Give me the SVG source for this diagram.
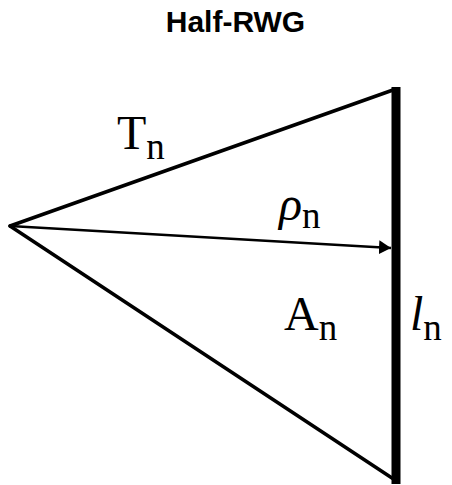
<svg xmlns="http://www.w3.org/2000/svg" width="452" height="485" viewBox="0 0 452 485">
<style>
.title{font-family:"Liberation Sans",Arial,sans-serif;font-weight:bold;font-size:30px;fill:#000}
.lbl{font-family:"Liberation Serif","Times New Roman",serif;font-size:48px;fill:#000}
.sub{font-size:37px}
.edge{stroke:#000;stroke-width:3.5;fill:none;stroke-linecap:round}
</style>
<defs>
<marker id="ah" viewBox="0 0 12 14" refX="12" refY="7" markerWidth="12" markerHeight="14" markerUnits="userSpaceOnUse" orient="auto">
<path d="M0,0 L12,7 L0,14 Z" fill="#000"/>
</marker>
</defs>
<rect width="452" height="485" fill="#fff"/>
<text class="title" x="235.5" y="32" text-anchor="middle">Half-RWG</text>
<g id="connectors">
<line class="edge" x1="10" y1="226" x2="393" y2="90"/>
<line class="edge" x1="10" y1="226" x2="395" y2="480"/>
<line x1="10" y1="226" x2="391" y2="248" stroke="#000" stroke-width="2.5" marker-end="url(#ah)"/>
</g>
<g id="edge-ln">
<rect x="391.5" y="87" width="9" height="397" fill="#000"/>
</g>
<g id="label-Tn">
<text class="lbl" x="117" y="149">T<tspan class="sub" dy="10">n</tspan></text>
</g>
<g id="label-rho">
<text class="lbl" x="279" y="220"><tspan font-style="italic">ρ</tspan><tspan class="sub" dy="8">n</tspan></text>
</g>
<g id="label-An">
<text class="lbl" x="284" y="330">A<tspan class="sub" dy="10">n</tspan></text>
</g>
<g id="label-ln">
<text class="lbl" x="410" y="330"><tspan font-style="italic">l</tspan><tspan class="sub" dy="10">n</tspan></text>
</g>
</svg>
